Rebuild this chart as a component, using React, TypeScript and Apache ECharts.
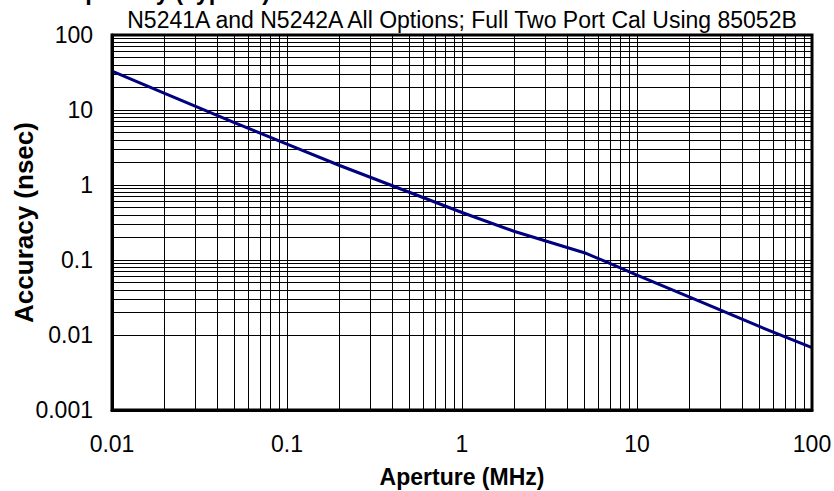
import React, { useEffect, useRef } from "react";
import * as echarts from "echarts";

const titleText = "Group Delay (Typical)";
const subtitleText = "N5241A and N5242A All Options; Full Two Port Cal Using 85052B";
const xAxisName = "Aperture (MHz)";
const yAxisName = "Accuracy (nsec)";

const apertureMHz = [0.01, 0.02, 0.05, 0.1, 0.2, 0.5, 1, 2, 5, 7, 10, 20, 50, 100];
const accuracyNs = [33, 16.7, 6.8, 3.5, 1.82, 0.8, 0.43, 0.24, 0.125, 0.09, 0.063, 0.032, 0.013, 0.0068];

const xDecades = [0.01, 0.1, 1, 10];
const yDecades = [0.001, 0.01, 0.1, 1, 10];
const minorSteps = [2, 3, 4, 5, 6, 7, 8, 9];

const FONT = "'Liberation Sans', Arial, sans-serif";

export default function App() {
  const ref = useRef<HTMLDivElement>(null);
  useEffect(() => {
    if (!ref.current) return;
    const chart = echarts.init(ref.current, null, { renderer: "svg" });
    const lineData = apertureMHz.map((x, i) => [x, accuracyNs[i]]);
    const minorX: any[] = [];
    xDecades.forEach((d) => minorSteps.forEach((m) => minorX.push({ xAxis: +(d * m).toPrecision(6) })));
    const minorY: any[] = [];
    yDecades.forEach((d) => minorSteps.forEach((m) => minorY.push({ yAxis: +(d * m).toPrecision(6) })));

    chart.setOption({
      animation: false,
      backgroundColor: "#fff",
      textStyle: { fontFamily: FONT },
      grid: {
        left: 112,
        top: 35,
        width: 700,
        height: 375,
        containLabel: false,
        outerBoundsMode: "none",
        show: true,
        borderColor: "#000",
        borderWidth: 3,
        backgroundColor: "transparent",
        z: 10,
      },
      graphic: [
        {
          type: "text",
          x: 29,
          y: -8,
          style: {
            text: titleText,
            font: `bold 23.5px ${FONT}`,
            fill: "#000",
            verticalAlign: "middle",
          },
        },
        {
          type: "text",
          x: 462,
          y: 20,
          style: {
            text: subtitleText,
            font: `23px ${FONT}`,
            fill: "#000",
            align: "center",
            verticalAlign: "middle",
          },
        },
      ],
      xAxis: {
        type: "log",
        logBase: 10,
        min: 0.01,
        max: 100,
        name: xAxisName,
        nameLocation: "middle",
        nameGap: 55,
        nameMoveOverlap: false,
        nameTextStyle: { fontFamily: FONT, fontWeight: "bold", fontSize: 23, color: "#000" },
        axisLine: { show: true, onZero: false, lineStyle: { color: "#000", width: 3 } },
        axisTick: { show: false },
        axisLabel: { fontFamily: FONT, fontSize: 23, color: "#000", margin: 22 },
        splitLine: { show: true, lineStyle: { color: "#000", width: 1 } },
      },
      yAxis: {
        type: "log",
        logBase: 10,
        min: 0.001,
        max: 100,
        name: yAxisName,
        nameLocation: "middle",
        nameGap: 75,
        nameRotate: 90,
        nameMoveOverlap: false,
        nameTextStyle: { fontFamily: FONT, fontWeight: "bold", fontSize: 26, color: "#000" },
        axisLine: { show: true, lineStyle: { color: "#000", width: 3 } },
        axisTick: { show: false },
        axisLabel: { fontFamily: FONT, fontSize: 23, color: "#000", margin: 19 },
        splitLine: { show: true, lineStyle: { color: "#000", width: 1 } },
      },
      series: [
        {
          type: "line",
          data: lineData,
          symbol: "none",
          silent: true,
          z: 1,
          lineStyle: { opacity: 0 },
          markLine: {
            silent: true,
            symbol: ["none", "none"],
            label: { show: false },
            lineStyle: { color: "#000", width: 1, type: "solid", opacity: 1 },
            emphasis: { disabled: true },
            data: [...minorX, ...minorY],
          },
        },
        {
          type: "line",
          data: lineData,
          symbol: "none",
          smooth: false,
          z: 5,
          lineStyle: { color: "#000080", width: 3 },
        },
      ],
    });
    return () => chart.dispose();
  }, []);
  return (
    <div
      ref={ref}
      style={{ position: "absolute", left: 0, top: 0, width: 834, height: 491 }}
    />
  );
}
